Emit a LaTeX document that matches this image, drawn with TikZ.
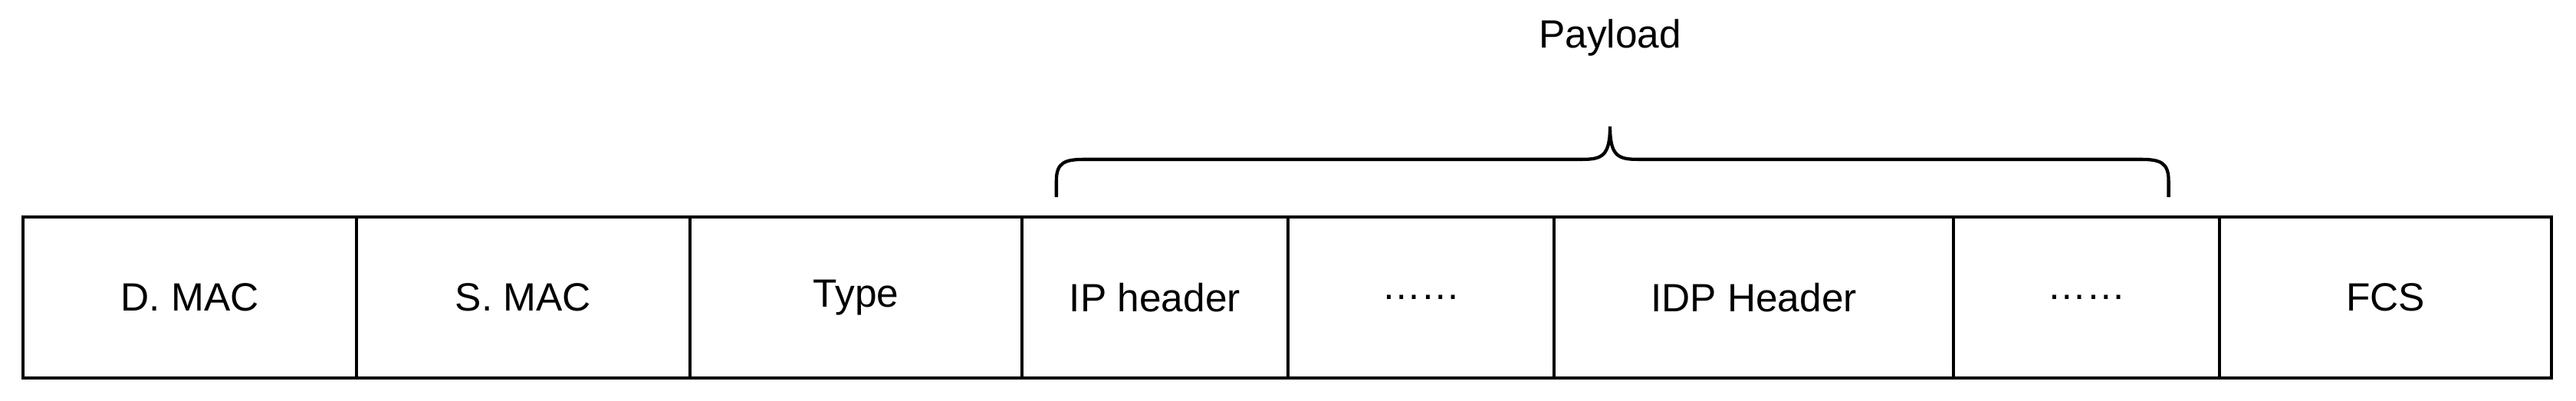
\documentclass[tikz,border=0pt]{standalone}
\usepackage{fontspec}
\setmainfont{Liberation Sans}
\begin{document}
\begin{tikzpicture}[x=1pt,y=-1pt,line width=2pt,
  fld/.style={draw,minimum height=98pt,inner sep=0pt,font=\fontsize{24}{28}\selectfont}]
\useasboundingbox (0,0) rectangle (1568,244);
\foreach \a/\b/\t [count=\i] in {14/217/D. MAC,217/420/S. MAC,420/622/Type,622/784/IP header,784/946/……,946/1189/IDP Header,1189/1351/……,1351/1553/FCS}{
  \node[fld,minimum width={(\b-\a)*1pt}] (f\i) at ({(\a+\b)/2},181) {\t};
}
\coordinate (bl) at (643,120);
\coordinate (br) at (1320,120);
\draw (bl) -- (643,110) .. controls (643,99) and (648,97) .. (660,97) -- (963,97)
  .. controls (975,97) and (980,95) .. (980,77)
  .. controls (980,95) and (985,97) .. (997,97) -- (1303,97)
  .. controls (1315,97) and (1320,99) .. (1320,110) -- (br);
\node[font=\fontsize{24}{28}\selectfont] (pl) at (980,23) {Payload};
\end{tikzpicture}
\end{document}
